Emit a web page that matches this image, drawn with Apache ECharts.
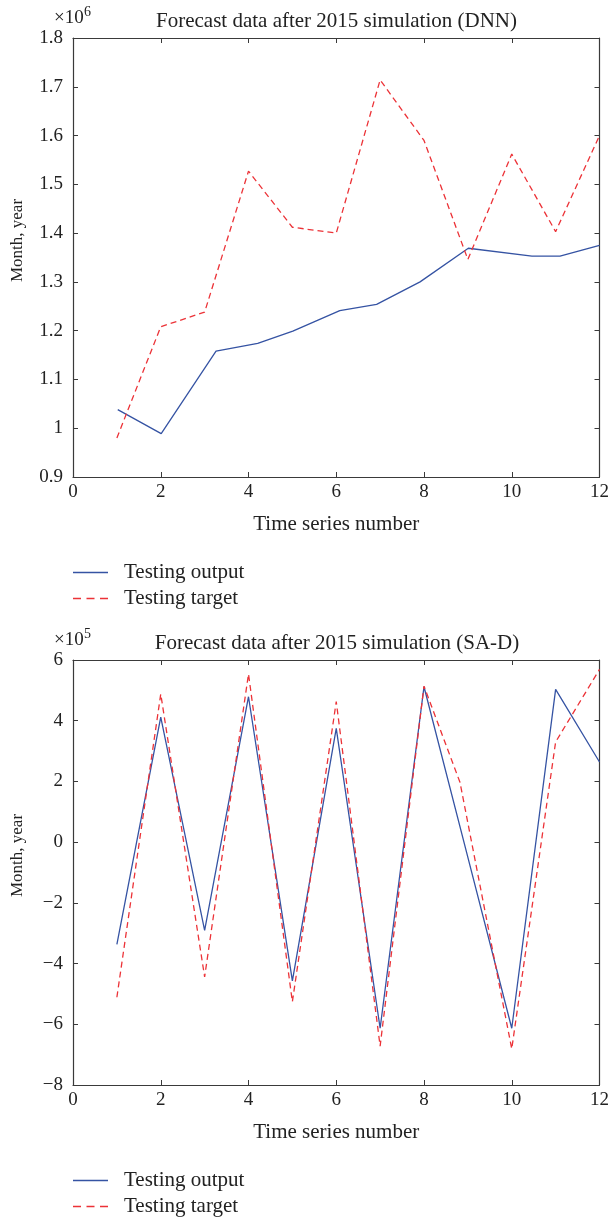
<!DOCTYPE html>
<html>
<head>
<meta charset="utf-8">
<script src="https://cdn.jsdelivr.net/npm/echarts@6/dist/echarts.min.js"></script>
<style>
html,body{margin:0;padding:0;background:#fff;}
#c{width:612px;height:1219px;}
</style>
</head>
<body>
<div id="c"></div>
<script>
// ---- Chart 1: DNN (values in units of 1e6) ----
const dnnOutX = [1.02, 2.01, 3.26, 4.21, 5.01, 6.08, 6.92, 7.91, 9.01, 10.46, 11.1, 12];
const dnnOutY = [1.038, 0.989, 1.158, 1.174, 1.199, 1.241, 1.254, 1.300, 1.369, 1.353, 1.353, 1.375];
const dnnTgtX = [1, 2, 3, 4, 5, 6, 7, 8, 9, 10, 11, 12];
const dnnTgtY = [0.980, 1.208, 1.238, 1.527, 1.412, 1.400, 1.714, 1.590, 1.346, 1.562, 1.403, 1.600];

// ---- Chart 2: SA-D (values in units of 1e5) ----
const sadOutX = [1, 2, 3, 4, 5, 6, 7, 8, 9, 10, 11, 12];
const sadOutY = [-3.37, 4.12, -2.91, 4.79, -4.57, 3.75, -6.13, 5.12, -0.5, -6.13, 5.03, 2.64];
const sadTgtX = [1, 2, 3, 4, 5, 6, 7, 8, 8.82, 10, 11, 12];
const sadTgtY = [-5.11, 4.88, -4.44, 5.54, -5.26, 4.63, -6.72, 5.14, 1.97, -6.81, 3.30, 5.69];

const xTicks = [0, 2, 4, 6, 8, 10, 12];
const dnnYTicks = [0.9, 1.0, 1.1, 1.2, 1.3, 1.4, 1.5, 1.6, 1.7, 1.8];
const sadYTicks = [-8, -6, -4, -2, 0, 2, 4, 6];

const titles = ['Forecast data after 2015 simulation (DNN)', 'Forecast data after 2015 simulation (SA-D)'];
const exps = ['6', '5'];
const xName = 'Time series number';
const yName = 'Month, year';
const legendNames = ['Testing output', 'Testing target'];

const FONT = '"Liberation Serif", "DejaVu Serif", serif';
const AX = '#3a3a3a';
const TXT = '#222';
const BLUE = '#3553a3';
const RED = '#ec3237';

function pairs(xs, ys){ return xs.map((x,i)=>[x, ys[i]]); }
function fmtNum(v){
  let s = String(Math.round(v*10)/10);
  return s.replace('-', '\u2212');
}

const grids = [
  {left:73, top:38, width:527, height:439},
  {left:73, top:660, width:528, height:425}
];
const yTickSets = [dnnYTicks, sadYTicks];

const xAxes = [], yAxes = [], series = [];
grids.forEach((g, gi) => {
  const xmin = xTicks[0], xmax = xTicks[xTicks.length-1];
  const yt = yTickSets[gi];
  const ymin = yt[0], ymax = yt[yt.length-1];
  const yint = Math.round((yt[1]-yt[0])*10)/10;
  const base = {
    type:'value', gridIndex:gi, splitLine:{show:false},
    axisLine:{show:true, onZero:false, lineStyle:{color:AX, width:1.2}},
    axisTick:{show:true, inside:true, length:5, lineStyle:{color:AX, width:1}}
  };
  xAxes.push(Object.assign({}, base, {
    min:xmin, max:xmax, interval:2, position:'bottom',
    axisLabel:{show:true, margin:6, color:TXT, fontFamily:FONT, fontSize:19},
    name:xName, nameLocation:'middle', nameGap:37,
    nameTextStyle:{color:TXT, fontFamily:FONT, fontSize:21}
  }));
  xAxes.push(Object.assign({}, base, {
    min:xmin, max:xmax, interval:2, position:'top', axisLabel:{show:false}
  }));
  yAxes.push(Object.assign({}, base, {
    min:ymin, max:ymax, interval:yint, position:'left',
    axisLabel:{show:true, margin:10, color:TXT, fontFamily:FONT, fontSize:19, formatter:fmtNum},
    name:yName, nameLocation:'middle', nameGap:47,
    nameTextStyle:{color:TXT, fontFamily:FONT, fontSize:17, padding:[0,0,0,34]}
  }));
  yAxes.push(Object.assign({}, base, {
    min:ymin, max:ymax, interval:yint, position:'right', axisLabel:{show:false}
  }));
});

const dataSets = [
  [pairs(dnnOutX, dnnOutY), pairs(dnnTgtX, dnnTgtY)],
  [pairs(sadOutX, sadOutY), pairs(sadTgtX, sadTgtY)]
];
dataSets.forEach((ds, gi) => {
  series.push({
    type:'line', name:legendNames[0], xAxisIndex:gi*2, yAxisIndex:gi*2,
    data:ds[0], symbol:'none', showSymbol:false, silent:true, animation:false,
    lineStyle:{color:BLUE, width:1.3, type:'solid'}, itemStyle:{color:BLUE}
  });
  series.push({
    type:'line', name:legendNames[1], xAxisIndex:gi*2, yAxisIndex:gi*2,
    data:ds[1], symbol:'none', showSymbol:false, silent:true, animation:false,
    lineStyle:{color:RED, width:1.3, type:[6,4]}, itemStyle:{color:RED}
  });
});

const titleComps = [];
grids.forEach((g, gi) => {
  titleComps.push({
    text: titles[gi], left: g.left + g.width/2, top: g.top - 27, textAlign:'center', padding:0,
    textStyle:{fontFamily:FONT, fontSize:21, lineHeight:21, fontWeight:'normal', color:TXT}
  });
  titleComps.push({
    text: '\u00d710', left: 54, top: g.top - 29, padding:0,
    textStyle:{fontFamily:FONT, fontSize:19, lineHeight:19, fontWeight:'normal', color:TXT}
  });
  titleComps.push({
    text: exps[gi], left: 84, top: g.top - 33, padding:0,
    textStyle:{fontFamily:FONT, fontSize:14, lineHeight:14, fontWeight:'normal', color:TXT}
  });
});

const SOLID_ICON = 'path://M0 0H35V1.4H0Z';
const DASH_ICON = 'path://M0 0H8V1.4H0Z M13.5 0H21.5V1.4H13.5Z M27 0H35V1.4H27Z';

const legends = [562, 1170].map(t => ({
  orient:'vertical', left:73, top:t, padding:0, itemWidth:35, itemHeight:14, itemGap:5,
  selectedMode:false,
  data: [
    {name: legendNames[0], icon: SOLID_ICON},
    {name: legendNames[1], icon: DASH_ICON}
  ],
  textStyle:{fontFamily:FONT, fontSize:21, lineHeight:21, color:TXT, padding:[0,0,0,11]}
}));

const chart = echarts.init(document.getElementById('c'), null, {renderer:'canvas'});
chart.setOption({
  animation:false,
  backgroundColor:'#fff',
  title: titleComps,
  legend: legends,
  grid: grids.map(g => Object.assign({containLabel:false}, g)),
  xAxis: xAxes,
  yAxis: yAxes,
  series: series
});
</script>
</body>
</html>
